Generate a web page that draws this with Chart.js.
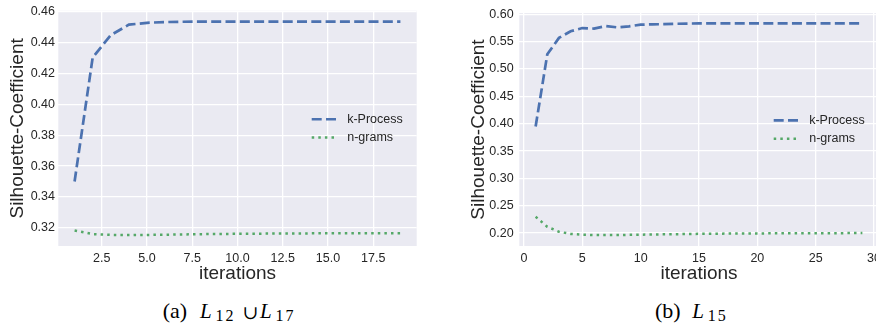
<!DOCTYPE html>
<html>
<head>
<meta charset="utf-8">
<script src="https://cdn.jsdelivr.net/npm/chart.js@4.4.1/dist/chart.umd.min.js"></script>
<style>
  html, body { margin: 0; padding: 0; background: #fff; }
  body { width: 876px; height: 328px; overflow: hidden; position: relative; }
  canvas { position: absolute; top: 0; }
  /* caption pieces, Times-like serif; line-height = font-size so baseline = top + 0.8375 * size */
  .cp { position: absolute; white-space: nowrap; color: #000; font-family: "Liberation Serif", serif; }
  .paren { font-size: 22px; line-height: 22px; top: 300.3px; }
  .ell { font-size: 21px; line-height: 21px; top: 301.1px; font-style: italic; }
  .sub { font-size: 16px; line-height: 16px; top: 307.9px; letter-spacing: 2px; }
  .cup { font-size: 19px; line-height: 19px; top: 302.8px; width: 20px; text-align: center;
         font-family: "DejaVu Serif", serif; }
</style>
</head>
<body>
<canvas id="chartA" width="440" height="290" style="left:0"></canvas>
<canvas id="chartB" width="460" height="290" style="left:440px"></canvas>

<!-- (a) L12 ∪ L17 -->
<span class="cp paren" style="left:162.7px">(a)</span>
<span class="cp ell" style="left:200px">L</span>
<span class="cp sub" style="left:215.5px">12</span>
<span class="cp cup" style="left:240.5px">&cup;</span>
<span class="cp ell" style="left:260px">L</span>
<span class="cp sub" style="left:275.5px">17</span>

<!-- (b) L15 -->
<span class="cp paren" style="left:655px">(b)</span>
<span class="cp ell" style="left:692.3px">L</span>
<span class="cp sub" style="left:707.8px">15</span>

<script>
// =============================
// DATA
// =============================
const seriesLabels = ["k-Process", "n-grams"];

// (a) L12 u L17
const iterA = [1, 2, 3, 4, 5, 6, 7, 8, 9, 10, 11, 12, 13, 14, 15, 16, 17, 18, 19];
const kProcessA = [0.350, 0.4305, 0.4450, 0.4518, 0.4530, 0.4535, 0.4537, 0.4538, 0.4538, 0.4538,
                   0.4538, 0.4538, 0.4538, 0.4538, 0.4538, 0.4538, 0.4538, 0.4538, 0.4538];
const nGramsA = [0.3182, 0.3158, 0.3153, 0.3152, 0.3153, 0.3154, 0.3156, 0.3158, 0.3159, 0.3160,
                 0.3161, 0.3162, 0.3162, 0.3163, 0.3163, 0.3163, 0.3164, 0.3164, 0.3164];
const xTicksA = [2.5, 5.0, 7.5, 10.0, 12.5, 15.0, 17.5];
const yTicksA = [0.32, 0.34, 0.36, 0.38, 0.40, 0.42, 0.44, 0.46];

// (b) L15
const iterB = [1, 2, 3, 4, 5, 6, 7, 8, 9, 10, 11, 12, 13, 14, 15, 16, 17, 18, 19, 20,
               21, 22, 23, 24, 25, 26, 27, 28, 29];
const kProcessB = [0.395, 0.527, 0.557, 0.569, 0.575, 0.574, 0.5785, 0.5762, 0.578, 0.5812,
                   0.5818, 0.582, 0.5828, 0.5832, 0.5834, 0.5834, 0.5834, 0.5834, 0.5834, 0.5834,
                   0.5834, 0.5834, 0.5834, 0.5834, 0.5834, 0.5834, 0.5834, 0.5834, 0.5834];
const nGramsB = [0.230, 0.2115, 0.2025, 0.1985, 0.1970, 0.1966, 0.1965, 0.1966, 0.1968, 0.1971,
                 0.1974, 0.1977, 0.1980, 0.1983, 0.1986, 0.1988, 0.1990, 0.1992, 0.1993, 0.1994,
                 0.1995, 0.1996, 0.1997, 0.1998, 0.1998, 0.1999, 0.1999, 0.2000, 0.2000];
const xTicksB = [0, 5, 10, 15, 20, 25, 30];
const yTicksB = [0.20, 0.25, 0.30, 0.35, 0.40, 0.45, 0.50, 0.55, 0.60];

// =============================
// STYLE
// =============================
const BLUE = "#4C72B0";
const GREEN = "#55A868";
const TEXT = "#262626";
const FONT = '"Liberation Sans", Arial, sans-serif';

// background of the axes (seaborn darkgrid)
const bgPlugin = {
  id: "axesBg",
  beforeDraw(chart) {
    const { ctx, chartArea: a } = chart;
    ctx.save();
    ctx.fillStyle = "#EAEAF2";
    ctx.fillRect(a.left, a.top, a.right - a.left, a.bottom - a.top);
    ctx.restore();
  }
};

// legend inside the plot, center right, no frame
const legendPlugin = {
  id: "insideLegend",
  afterDraw(chart) {
    const { ctx, chartArea: a } = chart;
    const cy = (a.top + a.bottom) / 2;
    chart.data.datasets.forEach((ds, i) => {
      const y = cy + (i - 0.5) * 18.3;
      ctx.save();
      ctx.strokeStyle = ds.borderColor;
      ctx.lineWidth = ds.borderWidth;
      ctx.setLineDash(ds.borderDash);
      ctx.beginPath();
      ctx.moveTo(a.right - 105, y);
      ctx.lineTo(a.right - 79, y);
      ctx.stroke();
      ctx.setLineDash([]);
      ctx.fillStyle = TEXT;
      ctx.font = "12.5px " + FONT;
      ctx.textBaseline = "middle";
      ctx.fillText(ds.label, a.right - 69.5, y);
      ctx.restore();
    });
  }
};

// =============================
// RENDER
// =============================
function makeChart(id, xs, kVals, nVals, o) {
  const ctx = document.getElementById(id).getContext("2d");
  return new Chart(ctx, {
    type: "line",
    data: {
      datasets: [{
        label: seriesLabels[0],
        data: xs.map((x, i) => ({ x, y: kVals[i] })),
        borderColor: BLUE,
        borderWidth: 2.7,
        borderDash: [10, 4.3],
        borderCapStyle: "butt",
        pointRadius: 0,
        tension: 0,
        fill: false
      }, {
        label: seriesLabels[1],
        data: xs.map((x, i) => ({ x, y: nVals[i] })),
        borderColor: GREEN,
        borderWidth: 2.5,
        borderDash: [2.5, 4.1],
        borderCapStyle: "butt",
        pointRadius: 0,
        tension: 0,
        fill: false
      }]
    },
    options: {
      responsive: false,
      animation: false,
      layout: { padding: { left: o.padL, right: o.padR, top: 6, bottom: 0 } },
      plugins: { legend: { display: false }, tooltip: { enabled: false } },
      scales: {
        x: {
          type: "linear",
          min: o.xMin,
          max: o.xMax,
          afterBuildTicks: (s) => { s.ticks = o.xTicks.map((v) => ({ value: v })); },
          afterFit: (s) => { s.height = 44; s.paddingLeft = 0; s.paddingRight = 0; },
          ticks: {
            callback: (v) => v.toFixed(o.xDec),
            font: { family: FONT, size: 12.5 },
            color: TEXT,
            padding: 5,
            maxRotation: 0,
            autoSkip: false
          },
          grid: { color: "#ffffff", lineWidth: 1.3, drawTicks: false },
          border: { display: false },
          title: {
            display: true,
            text: "iterations",
            font: { family: FONT, size: 19 },
            color: TEXT,
            padding: { top: 0, bottom: 5.2 }
          }
        },
        y: {
          type: "linear",
          min: o.yMin,
          max: o.yMax,
          afterBuildTicks: (s) => { s.ticks = o.yTicks.map((v) => ({ value: v })); },
          afterFit: (s) => { s.width = o.yW; },
          ticks: {
            callback: (v) => v.toFixed(2),
            font: { family: FONT, size: 12.5 },
            color: TEXT,
            padding: o.yPad
          },
          grid: { color: "#ffffff", lineWidth: 1.3, drawTicks: false },
          border: { display: false },
          title: {
            display: true,
            text: "Silhouette-Coefficient",
            font: { family: FONT, size: 19 },
            color: TEXT,
            padding: { top: 6, bottom: 0 }
          }
        }
      }
    },
    plugins: [bgPlugin, legendPlugin]
  });
}

makeChart("chartA", iterA, kProcessA, nGramsA, {
  xMin: 0.1, xMax: 19.9, xTicks: xTicksA, xDec: 1,
  yMin: 0.3081, yMax: 0.4608, yTicks: yTicksA,
  padL: 0, padR: 23.3, yW: 58.3, yPad: 3.3
});

makeChart("chartB", iterB, kProcessB, nGramsB, {
  xMin: -0.4, xMax: 30.4, xTicks: xTicksB, xDec: 0,
  yMin: 0.1764, yMax: 0.6023, yTicks: yTicksB,
  padL: 21.6, padR: 21.3, yW: 57.7, yPad: 5.6
});
</script>
</body>
</html>
